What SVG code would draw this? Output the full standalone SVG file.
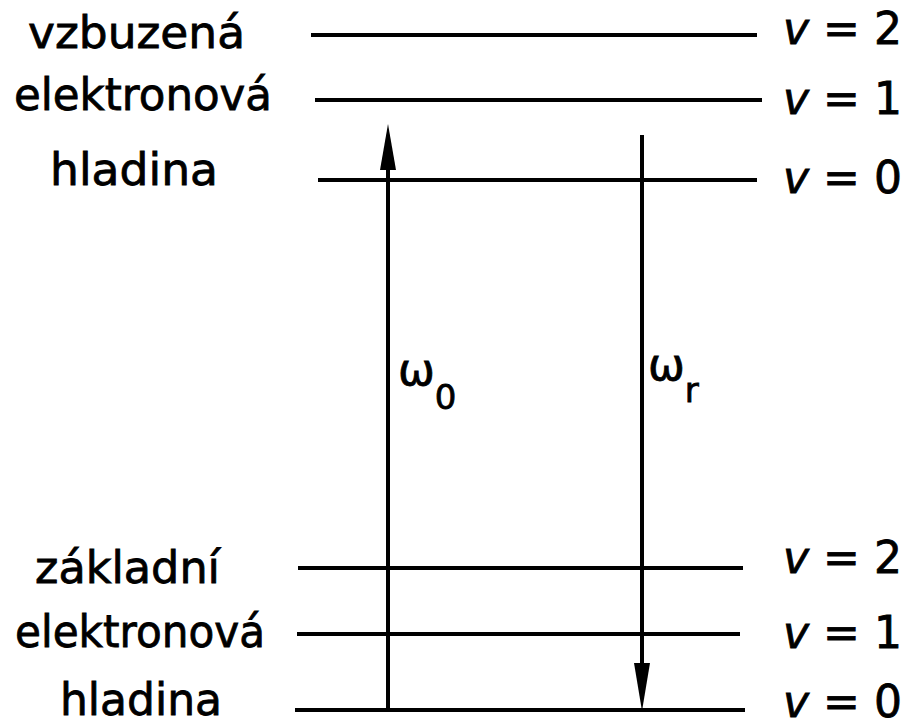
<svg xmlns="http://www.w3.org/2000/svg" width="912" height="727" viewBox="0 0 912 727">
<style>
.lvl{stroke:#000;stroke-width:4;fill:none}
.lbl{font-family:"DejaVu Sans","Liberation Sans",sans-serif;font-size:44px;fill:#000;stroke:#000;stroke-width:0.8}
.vq{font-family:"DejaVu Sans","Liberation Sans",sans-serif;font-size:44px;fill:#000;stroke:#000;stroke-width:0.8}
.conn{stroke:#000;stroke-width:4;fill:none}
.head{fill:#000}
</style>
<rect width="912" height="727" fill="#fff"/>
<g id="excited">
<text class="lbl" x="28" y="48" textLength="217" lengthAdjust="spacingAndGlyphs">vzbuzená</text>
<text class="lbl" x="14" y="110" textLength="258" lengthAdjust="spacingAndGlyphs">elektronová</text>
<text class="lbl" x="50" y="185" textLength="168" lengthAdjust="spacingAndGlyphs">hladina</text>
</g>
<g id="ground">
<text class="lbl" x="35" y="583" textLength="185" lengthAdjust="spacingAndGlyphs">základní</text>
<text class="lbl" x="15" y="647" textLength="250" lengthAdjust="spacingAndGlyphs">elektronová</text>
<text class="lbl" x="60" y="715" textLength="162" lengthAdjust="spacingAndGlyphs">hladina</text>
</g>
<g id="ex-v2"><line class="lvl" x1="311" y1="35" x2="757" y2="35"/><text class="vq" x="783" y="44"><tspan font-style="italic">v</tspan> = 2</text></g>
<g id="ex-v1"><line class="lvl" x1="315" y1="100" x2="762" y2="100"/><text class="vq" x="783" y="114"><tspan font-style="italic">v</tspan> = 1</text></g>
<g id="ex-v0"><line class="lvl" x1="318" y1="180" x2="757" y2="180"/><text class="vq" x="783" y="193"><tspan font-style="italic">v</tspan> = 0</text></g>
<g id="gr-v2"><line class="lvl" x1="298" y1="568" x2="743" y2="568"/><text class="vq" x="783" y="573"><tspan font-style="italic">v</tspan> = 2</text></g>
<g id="gr-v1"><line class="lvl" x1="297" y1="634" x2="740" y2="634"/><text class="vq" x="783" y="648"><tspan font-style="italic">v</tspan> = 1</text></g>
<g id="gr-v0"><line class="lvl" x1="295" y1="710" x2="745" y2="710"/><text class="vq" x="783" y="717"><tspan font-style="italic">v</tspan> = 0</text></g>
<g id="connectors">
<line class="conn" x1="388" y1="710" x2="388" y2="160"/>
<polygon class="head" points="388,124 380,170 396,170"/>
<line class="conn" x1="642" y1="135" x2="642" y2="675"/>
<polygon class="head" points="642,711 634,663 650,663"/>
<text class="lbl" x="398" y="385" font-size="52">ω<tspan font-size="34" dy="24">0</tspan></text>
<text class="lbl" x="648" y="380" font-size="50">ω<tspan font-size="34" dy="22">r</tspan></text>
</g>
</svg>
